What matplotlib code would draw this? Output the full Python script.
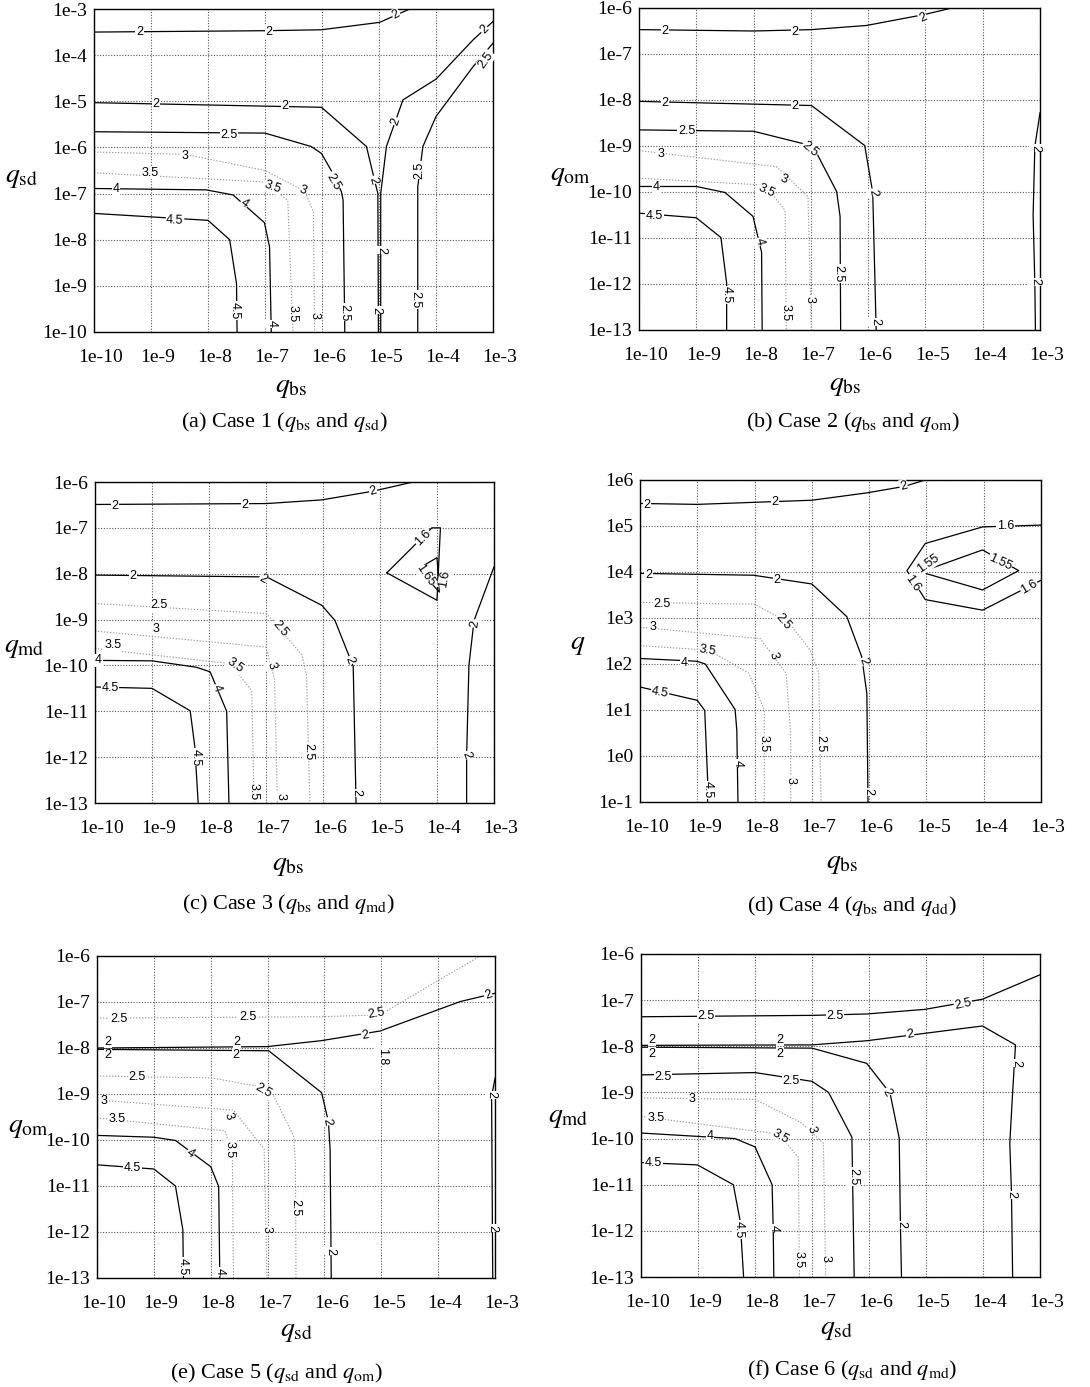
import numpy as np
import matplotlib.pyplot as plt
import matplotlib.transforms as mtransforms

plt.rcParams['font.family'] = ['Liberation Serif', 'DejaVu Serif']
plt.rcParams['mathtext.fontset'] = 'stix'

# contour polylines, in log10 units: (level, x exponents, y exponents)
a_lines = [
    (2, [-10, -6.98, -6.01, -4.99, -4.46], [-3.5, -3.47, -3.45, -3.29, -3.0]),
    (2, [-3.0, -3.35, -4.0, -4.58, -4.87, -4.97, -4.97], [-3.27, -3.67, -4.52, -4.97, -5.98, -7.0, -10]),
    (2, [-10, -6.01, -5.22, -5.08, -5.02, -5.01], [-5.03, -5.13, -5.98, -6.7, -7.0, -10]),
    (2.5, [-10, -7.0, -6.19, -6.01, -5.81, -5.66, -5.63, -5.6], [-5.66, -5.69, -5.98, -6.13, -6.56, -6.96, -7.14, -10]),
    (2.5, [-3.0, -3.35, -4.0, -4.23, -4.32, -4.32], [-3.74, -4.25, -5.33, -5.98, -6.85, -10]),
    (3, [-10, -8.4, -7.0, -6.3, -6.15, -6.13], [-6.1, -6.15, -6.5, -6.95, -7.4, -10]),
    (3.5, [-10, -7.0, -6.6, -6.51], [-6.55, -6.75, -7.15, -10]),
    (4, [-10, -8.03, -7.56, -7.01, -6.92, -6.89], [-6.89, -6.92, -7.03, -7.63, -8.16, -10]),
    (4.5, [-10, -8.0, -7.62, -7.5, -7.49], [-7.43, -7.58, -8.0, -8.95, -10]),
]
a_labels = [
    ('2', -9.2, -3.5, 0), ('2', -6.93, -3.5, 0), ('2', -4.7, -3.12, 30), ('2', -3.15, -3.45, 45),
    ('2', -8.91, -5.06, 0), ('2', -6.65, -5.1, 0), ('2', -4.7, -5.44, 70), ('2', -5.11, -6.71, -75),
    ('2', -4.96, -8.23, -90), ('2', -5.05, -9.53, -90),
    ('2.5', -7.63, -5.72, 0), ('2.5', -5.81, -6.74, -60), ('2.5', -5.6, -9.57, -90),
    ('2.5', -3.12, -4.1, 55), ('2.5', -4.29, -6.49, 90), ('2.5', -4.36, -9.3, -90),
    ('3', -8.41, -6.18, 0), ('3', -6.33, -6.92, -20), ('3', -6.13, -9.64, -90),
    ('3.5', -9.02, -6.55, 0), ('3.5', -6.86, -6.85, -20), ('3.5', -6.51, -9.6, -90),
    ('4', -9.61, -6.9, 0), ('4', -7.36, -7.21, -35), ('4', -6.89, -9.82, -90),
    ('4.5', -8.58, -7.58, -3), ('4.5', -7.53, -9.53, -90),
]

b_lines = [
    (2, [-10, -8.0, -6.99, -6.03, -5.01, -4.54], [-6.47, -6.5, -6.47, -6.38, -6.14, -6.0]),
    (2, [-10, -6.99, -6.06, -5.92, -5.86], [-8.03, -8.12, -8.99, -10.01, -13]),
    (2, [-3.0, -3.09, -3.12, -3.09, -3.08], [-8.28, -9.01, -10.5, -12.0, -13]),
    (2.5, [-10, -8.0, -7.13, -6.93, -6.55, -6.49, -6.48], [-8.65, -8.68, -8.95, -9.08, -9.99, -10.53, -13]),
    (3, [-10, -7.6, -7.05, -6.99], [-9.1, -9.45, -10.1, -13]),
    (3.5, [-10, -7.8, -7.45, -7.43], [-9.7, -9.85, -10.4, -13]),
    (4, [-10, -9.0, -8.5, -8.01, -7.86, -7.85], [-9.88, -9.88, -10.01, -10.53, -11.31, -13]),
    (4.5, [-10, -9.0, -8.57, -8.47, -8.47], [-10.46, -10.56, -10.99, -11.98, -13]),
]
b_labels = [
    ('2', -9.55, -6.49, 0), ('2', -7.28, -6.52, 0), ('2', -5.04, -6.22, 25),
    ('2', -9.55, -8.07, 0), ('2', -7.28, -8.12, 0), ('2', -5.91, -10.01, -80),
    ('2', -5.88, -12.82, -90), ('2', -3.08, -9.05, -90), ('2', -3.09, -11.95, -90),
    ('2.5', -9.17, -8.68, 0), ('2.5', -7.02, -9.08, -40), ('2.5', -6.52, -11.77, -90),
    ('3', -9.61, -9.17, 0), ('3', -7.48, -9.73, -20), ('3', -7.02, -12.34, -90),
    ('3.5', -7.78, -9.97, -25), ('3.5', -7.45, -12.63, -90),
    ('4', -9.7, -9.9, 0), ('4', -7.89, -11.08, -75),
    ('4.5', -9.73, -10.53, 0), ('4.5', -8.47, -12.24, -90),
]

c_lines = [
    (2, [-10, -6.99, -6.02, -5.12, -4.42], [-6.49, -6.47, -6.39, -6.2, -6.0]),
    (2, [-10, -6.99, -6.02, -5.79, -5.56, -5.47, -5.42], [-8.03, -8.07, -8.69, -9.02, -9.74, -10.02, -13]),
    (2, [-3.0, -3.35, -3.44, -3.48, -3.48], [-7.85, -9.02, -10.0, -11.96, -13]),
    (1.6, [-4.88, -4.09, -3.94, -4.0, -4.88], [-7.98, -7.0, -7.0, -8.58, -7.98]),
    (1.65, [-4.33, -4.0, -3.96, -4.33], [-7.89, -7.65, -8.4, -7.89]),
    (2.5, [-10, -6.99, -6.37, -6.29, -6.23], [-8.65, -8.87, -9.77, -10.2, -13]),
    (3, [-10, -7.0, -6.85, -6.8], [-9.25, -9.6, -10.3, -13]),
    (3.5, [-10, -7.63, -7.25, -7.21], [-9.63, -9.96, -10.55, -13]),
    (4, [-10, -9.0, -8.22, -7.98, -7.69, -7.65], [-9.89, -9.9, -10.04, -10.14, -11.0, -13]),
    (4.5, [-10, -9.0, -8.33, -8.25, -8.19], [-10.47, -10.5, -10.99, -11.76, -13]),
]
c_labels = [
    ('2', -9.65, -6.52, 0), ('2', -7.37, -6.51, 0), ('2', -5.12, -6.2, 15),
    ('2', -9.33, -8.06, 0), ('2', -7.05, -8.11, -30), ('2', -5.53, -9.89, -70),
    ('2', -5.42, -12.78, -90), ('2', -3.33, -9.09, 80), ('2', -3.48, -11.96, -70),
    ('1.6', -4.24, -7.22, 45), ('1.6', -3.86, -8.11, 80), ('1.65', -4.21, -8.03, -55),
    ('2.5', -8.87, -8.69, 0), ('2.5', -6.75, -9.2, -50), ('2.5', -6.26, -11.89, -90),
    ('3', -8.93, -9.2, 0), ('3', -6.9, -10.0, -75), ('3', -6.75, -12.85, -90),
    ('3.5', -9.69, -9.56, 0), ('3.5', -7.54, -10.0, -35), ('3.5', -7.22, -12.76, -90),
    ('4', -9.94, -9.89, 0), ('4', -7.87, -10.5, -70),
    ('4.5', -9.74, -10.5, 0), ('4.5', -8.23, -12.0, -90),
]

d_lines = [
    (2, [-10, -9.0, -7.0, -6.04, -5.39, -5.02], [5.49, 5.47, 5.56, 5.72, 5.86, 6.0]),
    (2, [-10, -8.02, -7.0, -6.39, -6.13, -6.04, -6.02], [3.97, 3.93, 3.74, 3.03, 2.16, 1.36, -1.0]),
    (1.6, [-3.0, -4.02, -5.02, -5.34, -5.02, -4.02, -3.0], [5.02, 4.98, 4.62, 4.03, 3.4, 3.17, 3.82]),
    (1.55, [-5.1, -4.02, -3.39, -4.02, -5.1], [4.0, 4.48, 4.03, 3.61, 4.0]),
    (2.5, [-10, -8.0, -7.4, -7.03, -6.88, -6.84], [3.34, 3.3, 2.9, 2.3, 1.8, -1.0]),
    (3, [-10, -7.9, -7.45, -7.37, -7.37], [2.8, 2.55, 1.8, 0.5, -1.0]),
    (3.5, [-10, -8.8, -8.1, -7.83, -7.83], [2.4, 2.3, 1.8, 1.0, -1.0]),
    (4, [-10, -9.01, -8.86, -8.34, -8.31, -8.29], [2.12, 2.06, 2.0, 1.01, 0.56, -1.0]),
    (4.5, [-10, -9.0, -8.87, -8.82, -8.82], [1.5, 1.21, 0.99, -0.5, -1.0]),
]
d_labels = [
    ('2', -9.88, 5.46, 0), ('2', -7.64, 5.53, 0), ('2', -5.4, 5.87, 15),
    ('2', -9.85, 3.93, 0), ('2', -7.61, 3.82, 0), ('2', -6.1, 2.05, -70), ('2', -6.02, -0.78, -90),
    ('1.6', -3.62, 5.0, 0), ('1.6', -5.25, 3.75, -55), ('1.6', -3.21, 3.68, 30),
    ('1.55', -4.96, 4.19, 35), ('1.55', -3.71, 4.22, -25),
    ('2.5', -9.62, 3.3, 0), ('2.5', -7.5, 2.92, -50), ('2.5', -6.86, 0.27, -90),
    ('3', -9.77, 2.81, 0), ('3', -7.67, 2.19, -75), ('3', -7.38, -0.53, -90),
    ('3.5', -8.82, 2.3, -10), ('3.5', -7.85, 0.27, -90),
    ('4', -9.23, 2.03, 0), ('4', -8.29, -0.16, -90),
    ('4.5', -9.65, 1.38, -10), ('4.5', -8.81, -0.74, -90),
]

e_lines = [
    (2.5, [-10, -6.05, -5.02, -4.08, -3.26], [-7.35, -7.32, -7.28, -6.59, -6.0]),
    (2, [-10, -7.01, -6.05, -5.02, -3.61, -3.0], [-8.0, -7.97, -7.84, -7.63, -6.99, -6.81]),
    (2, [-10, -6.98, -6.05, -5.93, -5.9, -5.88], [-8.03, -8.06, -8.97, -9.6, -10.21, -13]),
    (2, [-3.0, -3.06, -3.05, -3.04], [-8.66, -9.06, -11.0, -13]),
    (2.5, [-10, -7.99, -7.13, -6.9, -6.54, -6.51, -6.5], [-8.61, -8.65, -8.84, -9.02, -9.92, -10.58, -13]),
    (3, [-10, -7.6, -7.06, -7.01], [-9.13, -9.35, -10.2, -13]),
    (3.5, [-10, -7.75, -7.62, -7.6], [-9.52, -9.8, -10.3, -13]),
    (4, [-10, -9.0, -8.62, -8.0, -7.86, -7.84], [-9.9, -9.94, -10.01, -10.58, -11.01, -13]),
    (4.5, [-10, -9.0, -8.62, -8.49, -8.48], [-10.54, -10.63, -11.0, -11.95, -13]),
]
e_labels = [
    ('2.5', -9.62, -7.38, 0), ('2.5', -7.35, -7.33, 0), ('2.5', -5.08, -7.25, 10),
    ('2.5', -9.3, -8.64, 0), ('2.5', -7.07, -8.93, -30), ('2.5', -6.51, -11.48, -90),
    ('2', -3.12, -6.85, 20), ('2', -5.28, -7.72, 10), ('2', -7.54, -7.86, 0),
    ('2', -9.81, -7.86, 0), ('2', -9.81, -8.16, 0), ('2', -7.56, -8.15, 0),
    ('2', -5.96, -9.6, -80), ('2', -5.9, -12.42, -90), ('2', -3.06, -9.02, -90),
    ('2', -3.04, -11.92, -90), ('1.8', -4.99, -8.19, -90),
    ('3', -9.88, -9.16, 0), ('3', -7.69, -9.48, -70), ('3', -7.01, -11.95, -90),
    ('3.5', -9.64, -9.54, 0), ('3.5', -7.66, -10.21, -90),
    ('4', -8.36, -10.29, -35), ('4', -7.84, -12.86, -90),
    ('4.5', -9.38, -10.61, 0), ('4.5', -8.49, -12.75, -90),
]

f_lines = [
    (2.5, [-10, -7.0, -6.04, -5.02, -4.01, -3.0], [-7.36, -7.33, -7.3, -7.2, -6.98, -6.45]),
    (2, [-10, -7.01, -6.04, -4.01, -3.43, -3.48, -3.53, -3.5, -3.48], [-7.98, -7.97, -7.88, -7.56, -7.97, -9.0, -10.1, -11.2, -13]),
    (2, [-10, -7.0, -6.04, -5.63, -5.47, -5.45, -5.43], [-8.02, -8.04, -8.37, -9.02, -9.99, -11.8, -13]),
    (2.5, [-10, -8.0, -7.0, -6.71, -6.3, -6.26], [-8.62, -8.57, -8.76, -9.0, -9.97, -13]),
    (3, [-10, -8.0, -7.2, -6.8, -6.76], [-9.12, -9.15, -9.65, -10.1, -13]),
    (3.5, [-10, -7.6, -7.24, -7.22], [-9.52, -9.9, -10.4, -13]),
    (4, [-10, -8.35, -8.0, -7.7, -7.68, -7.67], [-9.88, -10.0, -10.18, -11.0, -11.97, -13]),
    (4.5, [-10, -9.01, -8.38, -8.26, -8.2], [-10.52, -10.57, -11.0, -11.79, -13]),
]
f_labels = [
    ('2.5', -8.86, -7.34, 0), ('2.5', -6.6, -7.34, 0), ('2.5', -4.35, -7.08, 12),
    ('2.5', -9.61, -8.66, 0), ('2.5', -7.37, -8.75, 0), ('2.5', -6.27, -10.82, -90),
    ('2', -9.81, -7.86, 0), ('2', -9.81, -8.16, 0), ('2', -7.56, -7.86, 0), ('2', -7.56, -8.16, 0),
    ('2', -5.28, -7.75, 10), ('2', -3.41, -8.37, -90), ('2', -3.5, -11.22, -90),
    ('2', -5.69, -9.0, -60), ('2', -5.44, -11.87, -90),
    ('3', -9.11, -9.15, 0), ('3', -7.01, -9.81, -75), ('3', -6.77, -12.59, -90),
    ('3.5', -9.74, -9.56, 0), ('3.5', -7.56, -9.95, -30), ('3.5', -7.23, -12.62, -90),
    ('4', -8.79, -9.95, 0), ('4', -7.68, -11.94, -90),
    ('4.5', -9.78, -10.53, 0), ('4.5', -8.28, -11.97, -90),
]

x_exps = list(range(-10, -2))
x_tick_labels = ['1e%d' % e for e in x_exps]

panels = [
    # lines, labels, y range exponents, faint levels, ylabel, xlabel, caption
    (a_lines, a_labels, (-10, -3), [3, 3.5], r'$q_{\mathrm{sd}}$', r'$q_{\mathrm{bs}}$',
     r'(a) Case 1 ($q_{\mathrm{bs}}$ and $q_{\mathrm{sd}}$)'),
    (b_lines, b_labels, (-13, -6), [3, 3.5], r'$q_{\mathrm{om}}$', r'$q_{\mathrm{bs}}$',
     r'(b) Case 2 ($q_{\mathrm{bs}}$ and $q_{\mathrm{om}}$)'),
    (c_lines, c_labels, (-13, -6), [2.5, 3, 3.5], r'$q_{\mathrm{md}}$', r'$q_{\mathrm{bs}}$',
     r'(c) Case 3 ($q_{\mathrm{bs}}$ and $q_{\mathrm{md}}$)'),
    (d_lines, d_labels, (-1, 6), [2.5, 3, 3.5], r'$q$', r'$q_{\mathrm{bs}}$',
     r'(d) Case 4 ($q_{\mathrm{bs}}$ and $q_{\mathrm{dd}}$)'),
    (e_lines, e_labels, (-13, -6), [2.5, 3, 3.5], r'$q_{\mathrm{om}}$', r'$q_{\mathrm{sd}}$',
     r'(e) Case 5 ($q_{\mathrm{sd}}$ and $q_{\mathrm{om}}$)'),
    (f_lines, f_labels, (-13, -6), [3, 3.5], r'$q_{\mathrm{md}}$', r'$q_{\mathrm{sd}}$',
     r'(f) Case 6 ($q_{\mathrm{sd}}$ and $q_{\mathrm{md}}$)'),
]

W, H = 1090, 1387
# axes boxes in pixels: left, right, top, bottom
boxes = [(94, 493, 9, 332), (639, 1040, 8, 330),
         (95, 494, 482, 803), (640, 1041, 480, 802),
         (97, 495, 956, 1278), (641, 1040, 954, 1277)]
ylab_pos = [(22, 177), (570, 175), (24, 648), (578, 645), (28, 1127), (568, 1118)]
xlab_pos = [(291, 388), (845, 386), (288, 866), (842, 864), (297, 1332), (837, 1330)]
cap_pos = [(284, 422), (853, 422), (288, 904), (852, 906), (276, 1373), (852, 1370)]

fig = plt.figure(figsize=(W / 100, H / 100), dpi=100)
shift = mtransforms.ScaledTranslation(7 / 100, 0, fig.dpi_scale_trans)

for i, (lines, labels, yr, faint, ylab, xlab, cap) in enumerate(panels):
    l, r, t, b = boxes[i]
    ax = fig.add_axes([l / W, 1 - b / H, (r - l) / W, (b - t) / H])
    ax.set_xscale('log')
    ax.set_yscale('log')
    ax.set_xlim(1e-10, 1e-3)
    ax.set_ylim(10.0 ** yr[0], 10.0 ** yr[1])
    ax.set_xticks(10.0 ** np.array(x_exps))
    ax.set_xticklabels(x_tick_labels)
    y_exps = list(range(yr[0], yr[1] + 1))
    ax.set_yticks(10.0 ** np.array(y_exps, dtype=float))
    ax.set_yticklabels(['1e%d' % e for e in y_exps])
    ax.minorticks_off()
    ax.tick_params(length=0, labelsize=14)
    ax.tick_params(axis='x', pad=12)
    ax.tick_params(axis='y', pad=5)
    for lab in ax.get_xticklabels():
        lab.set_transform(lab.get_transform() + shift)
    ax.grid(True, color='#555555', linestyle=(0, (1, 1.5)), linewidth=0.8)
    for s in ax.spines.values():
        s.set_linewidth(1.0)

    for lev, xs, ys in lines:
        if lev in faint:
            ax.plot(10.0 ** np.array(xs), 10.0 ** np.array(ys), color='#9a9a9a',
                    linestyle=(0, (1.2, 1.5)), linewidth=0.8)
        else:
            ax.plot(10.0 ** np.array(xs), 10.0 ** np.array(ys), color='black', linewidth=0.9)
    for txt, x, y, rot in labels:
        ax.text(10.0 ** x, 10.0 ** y, txt, rotation=rot, fontsize=9,
                family=['Liberation Sans', 'DejaVu Sans'], ha='center', va='center',
                rotation_mode='anchor',
                bbox=dict(boxstyle='square,pad=0.05', facecolor='white', edgecolor='none'))

    fig.text(ylab_pos[i][0] / W, 1 - ylab_pos[i][1] / H, ylab, fontsize=20, ha='center', va='center')
    fig.text(xlab_pos[i][0] / W, 1 - xlab_pos[i][1] / H, xlab, fontsize=20, ha='center', va='center')
    fig.text(cap_pos[i][0] / W, 1 - cap_pos[i][1] / H, cap, fontsize=16, ha='center', va='center')

fig.savefig('out.png', dpi=100)
